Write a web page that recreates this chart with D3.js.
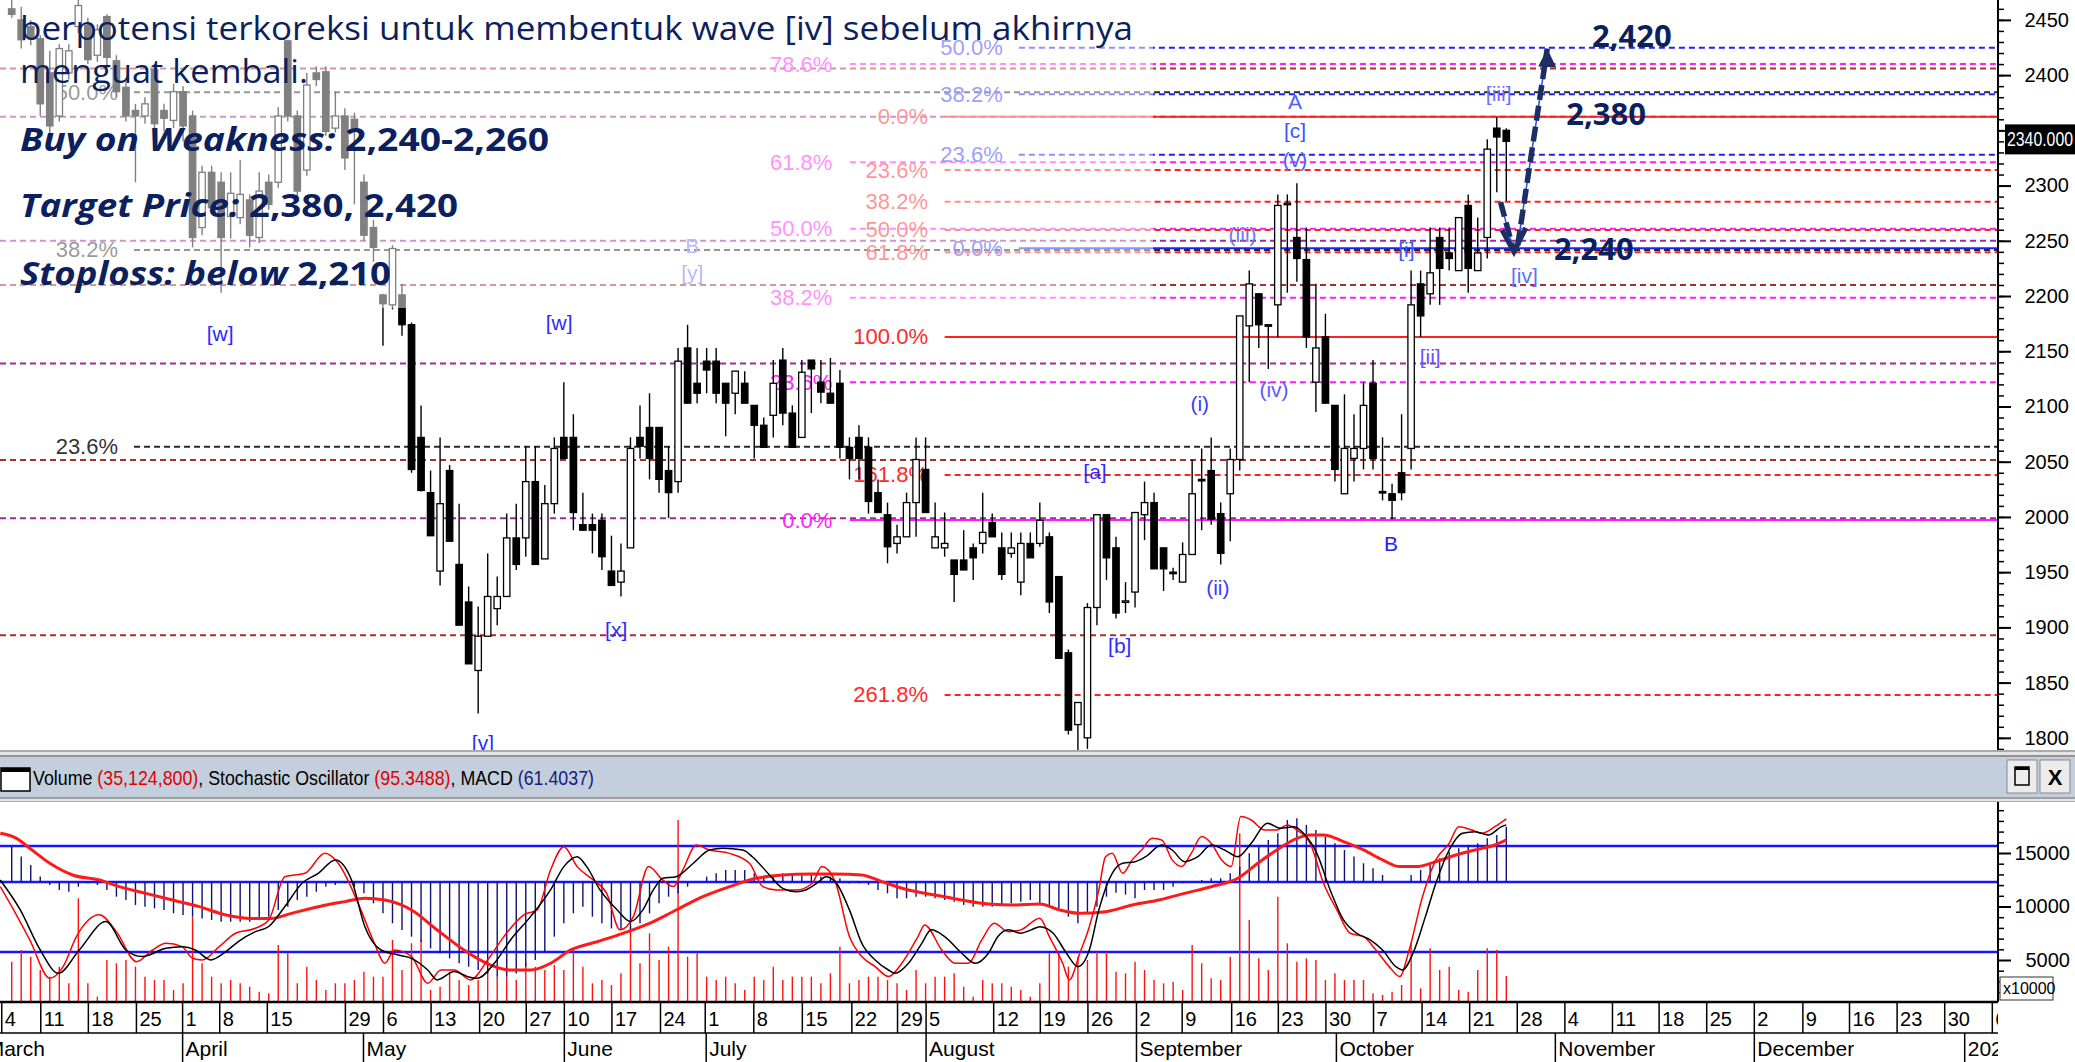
<!DOCTYPE html>
<html>
<head>
<meta charset="utf-8">
<script src="https://cdn.jsdelivr.net/npm/d3@7"></script>
<style>
  body { margin: 0; background: #fff; overflow: hidden; }
  svg { display: block; }
</style>
</head>
<body>
<div id="chart"></div>
<script>
const W = 2075, H = 1062
const axisX = 1998
const NARROW = '"Liberation Sans Narrow", "Arial Narrow", sans-serif'
const ARIAL = '"Liberation Sans", Arial, sans-serif'
const SANS = '"Open Sans", "Noto Sans", sans-serif'
const NAVY = '#0c1f5e'

// candles, one per trading day (6 Mar 2024 .. 25 Oct 2024)
const opens  = [2460,2450,2444,2433,2402,2363,2402,2444,2445,2418, 2453,2413,2389,2368,2363,2405,2368,2359,2385,2363,
  2262,2312,2303,2272,2271,2287,2253,2303,2303,2431, 2363,2314,2402,2403,2352,2363,2360,2303,2262,2201,
  2192,2201,2174,2072,2022,1951,2042,1957,1923,1861, 1892,1917,1928,1981,1981,2032,1962,2012,2072,2072,
  1993,1993,1997,1951,1941,1972,2072,2081,2081,2042, 2032,2153,2121,2141,2141,2121,2112,2121,2101,2083,
  2092,2142,2094,2072,2142,2122,2112,2121,2063,2072, 2063,2022,2002,1976,1982,2013,2043,1972,1972,1961,
  1961,1972,1976,1995,1972,1967,1941,1976,1976,1982, 1946,1877,1812,1800,1918,2002,1972,1923,1932,2002,
  2013,1972,1950,1941,1966,2034,2042,2003,2021,2052, 2173,2202,2174,2192,2284,2253,2233,2122,2163,2101,
  2021,2053,2062,2121,2023,2021,2040,2062,2211,2202, 2253,2239,2223,2282,2223,2253,2352,2350]
const highs  = [2470,2462,2450,2436,2422,2428,2428,2468,2452,2446, 2455,2418,2395,2374,2380,2410,2374,2392,2390,2368,
  2318,2318,2312,2312,2323,2292,2312,2310,2371,2432, 2368,2402,2408,2408,2385,2370,2366,2310,2269,2202,
  2246,2211,2176,2101,2042,2072,2047,2012,1937,1919, 1967,1946,2003,2012,2064,2064,2029,2072,2122,2093,
  2022,2003,2003,1983,1976,2072,2101,2112,2081,2064, 2153,2174,2153,2153,2153,2121,2132,2132,2101,2090,
  2142,2153,2101,2142,2142,2142,2144,2133,2072,2083, 2072,2034,2013,1993,2022,2072,2072,2013,2004,1961,
  1988,1976,2022,2003,1986,1986,1986,1986,2013,1986, 1946,1880,1832,1922,2002,2002,1982,1941,2004,2032,
  2022,1972,1954,1977,2052,2062,2072,2013,2062,2182, 2223,2202,2174,2292,2292,2302,2262,2211,2184,2101,
  2111,2093,2122,2142,2072,2030,2093,2223,2223,2262, 2262,2262,2271,2292,2271,2342,2362,2352]
const lows   = [2452,2424,2427,2363,2345,2358,2396,2438,2410,2412, 2408,2380,2358,2303,2356,2350,2349,2352,2340,2244,
  2255,2275,2203,2252,2265,2244,2248,2278,2298,2358, 2290,2309,2390,2345,2348,2314,2283,2250,2231,2155,
  2188,2164,2040,2023,1983,1938,1978,1902,1867,1822, 1892,1902,1928,1952,1964,1957,1962,2003,2053,1988,
  1988,1967,1952,1938,1928,1972,2053,2034,2022,1999, 2022,2103,2103,2112,2103,2073,2093,2103,2053,2063,
  2072,2083,2063,2072,2094,2103,2103,2053,2034,2034, 2003,2004,1958,1967,1982,1982,2004,1972,1964,1923,
  1952,1943,1967,1982,1943,1963,1929,1963,1973,1913, 1872,1803,1789,1790,1902,1943,1908,1913,1918,1979,
  1953,1933,1943,1941,1966,1988,1993,1957,1978,2042, 2122,2153,2134,2163,2203,2213,2153,2095,2103,2032,
  2021,2032,2043,2043,2015,1998,2015,2043,2163,2192, 2192,2223,2223,2203,2223,2234,2294,2286]
const closes = [2455,2432,2433,2374,2354,2424,2422,2463,2414,2441, 2416,2385,2363,2363,2374,2356,2361,2385,2354,2253,
  2312,2280,2253,2293,2292,2255,2295,2283,2363,2363, 2295,2391,2396,2349,2363,2325,2352,2255,2244,2193,
  2243,2174,2043,2024,1983,2012,1978,1902,1867,1892, 1928,1928,1981,1957,2032,1957,2012,2062,2053,2004,
  1988,1988,1964,1938,1951,2062,2064,2053,2034,2022, 2141,2103,2112,2133,2112,2103,2132,2103,2083,2063,
  2121,2094,2063,2131,2134,2113,2103,2063,2053,2053, 2014,2004,1973,1982,2013,2052,2004,1982,1976,1948,
  1952,1963,1986,1982,1948,1972,1976,1963,1997,1923, 1872,1807,1832,1918,2002,1963,1913,1924,2004,2013,
  1953,1953,1949,1966,2021,2033,1998,1967,2052,2182, 2211,2174,2173,2282,2284,2234,2163,2153,2103,2043,
  2062,2062,2101,2053,2022,2015,2022,2192,2182,2221, 2225,2234,2271,2225,2239,2333,2344,2340]

// volume, in units of 10,000 shares
const volumes = [4846,5936,5313,4067,3444,4379,2821,10764,2821,1575, 5002,4690,5002,4379,3444,3133,3133,2198,2821,9051,
  4690,3444,2821,3133,2821,2510,2042,1886,6403,5624, 2821,4379,3133,2198,2821,2821,3133,3911,3444,3444,
  6871,4067,6559,6871,2198,2510,3911,3133,2665,3133, 4223,3444,3444,3133,4690,4379,4067,4534,4067,5936,
  4379,2821,3133,2665,3755,8116,4690,7493,5002,6248, 18085,5313,5624,3444,3133,3444,2821,2198,3444,3133,
  4379,3133,3444,3444,3444,2821,3755,6248,2821,3133, 3444,3444,3133,2821,2198,4067,2821,3444,3444,3755,
  2510,1575,3133,2821,2821,2510,2198,1575,2821,5624, 5624,4379,5313,5002,5780,5780,3911,3755,4846,4067,
  3133,2821,2977,2198,6403,4690,3288,3133,5313,16839, 8739,5157,4067,10920,6559,4846,5157,5002,3133,3755,
  3133,3133,3133,1886,1730,2042,2665,6559,2354,6092, 4067,4379,2198,2042,4067,6092,5936,3512]

// MACD value per day (blue histogram)
const macd = [39.3,28.2,18.9,6.0,-3.3,-8.9,-10.7,-5.2,-1.5,-3.3, -8.9,-16.3,-20.0,-25.5,-27.4,-29.2,-31.1,-34.8,-36.6,-38.5,
  -40.4,-42.2,-44.1,-44.1,-44.1,-44.1,-42.2,-38.5,-31.1,-27.4, -20.0,-16.3,-10.7,-5.2,-3.3,-1.5,-5.2,-12.6,-23.7,-34.8,
  -45.9,-53.3,-60.7,-66.3,-73.7,-79.2,-84.8,-90.3,-94.1,-97.8, -101.5,-105.2,-105.2,-101.5,-94.1,-86.6,-77.4,-60.7,-45.9,-34.8,
  -27.4,-38.5,-45.9,-51.5,-53.3,-55.2,-45.9,-34.8,-23.7,-16.3, -12.6,-5.2,0.4,6.0,9.7,13.4,13.4,13.4,9.7,6.0,
  7.8,9.7,9.7,9.7,9.7,6.0,6.0,4.1,-1.5,-1.5, -3.3,-8.9,-12.6,-18.1,-18.1,-16.3,-16.3,-18.1,-20.0,-21.8,
  -25.5,-27.4,-27.4,-27.4,-25.5,-23.7,-21.8,-20.0,-23.7,-27.4, -31.1,-38.5,-45.9,-34.8,-27.4,-16.3,-12.0,-14.0,-18.1,-8.9,
  -8.9,-8.9,-5.2,-1.5,0.4,2.2,4.1,4.1,9.7,17.1, 31.9,39.3,46.7,54.1,68.9,70.8,63.4,57.8,50.4,43.0,
  35.6,28.2,20.8,15.2,7.8,0.4,0.4,7.8,13.4,18.9, 26.3,33.7,37.4,41.1,43.0,48.5,52.2,61.4]

// MACD signal line, read as [day, value]
const macdSignal = [[-1.2,54.1],[0.5,48.5],[1.9,37.4],[4.0,20.8],[6.4,7.8],[9.2,2.2],[11.3,-5.2],[14.1,-12.6],[16.9,-20.0],
  [19.7,-27.4],[22.5,-36.6],[25.2,-40.4],[27.3,-40.4],[29.4,-34.8],[32.2,-27.4],[35.0,-21.8],[37.1,-18.1],[39.2,-20.0],
  [42.0,-31.1],[44.7,-53.3],[47.5,-75.5],[50.3,-92.2],[52.4,-97.8],[54.5,-97.8],[56.6,-90.3],[58.7,-75.5],[61.5,-66.3],
  [64.2,-57.0],[67.0,-45.9],[69.8,-31.1],[72.6,-16.3],[75.4,-5.2],[78.2,4.1],[81.0,7.8],[83.8,8.9],[86.5,8.9],[89.3,7.8],
  [91.4,0.4],[94.2,-8.9],[97.0,-14.4],[99.8,-20.0],[102.6,-24.4],[105.3,-25.5],[108.0,-24.4],[110.1,-31.1],[112.2,-34.8],
  [114.9,-33.0],[117.7,-25.5],[120.5,-20.0],[123.2,-12.6],[126.0,-5.2],[128.8,4.1],[130.9,20.8],[132.9,35.6],[135.0,48.5],
  [136.4,52.2],[137.8,52.2],[139.9,44.8],[142.0,35.6],[144.0,24.5],[145.8,17.1],[147.5,17.1],[149.6,22.6],[151.7,30.0],
  [153.7,35.6],[155.8,41.1],[157.0,46.7]]

// stochastic %K (red) and %D (black), read as [day, value]
const stochK = [[-1.2,57.0],[0.2,43.8],[1.9,26.8],[4.0,5.1],[5.4,11.7],[6.8,28.7],[9.2,41.0],[11.0,31.5],[13.1,14.5],
  [14.8,21.1],[16.2,24.9],[17.9,23.0],[19.0,16.4],[20.0,15.5],[21.8,23.0],[23.5,30.6],[25.6,33.4],[27.0,38.1],[28.7,62.6],
  [30.8,64.5],[32.9,75.8],[34.3,70.2],[36.4,47.5],[38.1,24.9],[39.2,13.6],[40.2,21.1],[42.0,17.4],[43.7,2.3],[45.1,9.8],
  [46.5,9.8],[48.2,4.2],[50.0,15.5],[51.7,28.7],[53.8,41.0],[55.2,43.8],[56.6,66.4],[58.0,79.6],[59.4,68.3],[61.1,60.7],
  [62.5,53.2],[63.9,32.5],[65.3,40.0],[66.9,68.3],[68.4,60.7],[69.5,57.0],[70.5,66.4],[71.9,80.5],[73.3,77.7],[75.4,75.8],
  [77.5,70.2],[78.9,57.0],[80.3,55.1],[82.4,55.1],[84.1,58.9],[85.1,68.3],[86.5,59.8],[88.0,28.7],[89.3,17.4],[90.7,11.7],
  [92.1,6.1],[93.5,13.6],[95.2,28.7],[95.9,35.3],[97.7,21.1],[99.1,13.6],[100.5,13.6],[101.9,26.8],[103.2,36.2],[104.7,31.5],
  [106.0,32.5],[108.0,39.1],[109.0,28.7],[110.4,13.6],[111.1,4.2],[112.2,19.3],[113.2,34.3],[114.2,55.1],[114.9,73.9],
  [115.6,75.8],[116.7,64.5],[117.7,72.1],[118.7,77.7],[119.8,84.3],[120.8,83.4],[121.9,72.1],[122.9,68.3],[123.9,75.8],
  [125.0,85.3],[126.0,81.5],[127.1,72.1],[128.1,68.3],[129.1,96.6],[130.2,94.7],[131.6,89.0],[132.9,89.0],[134.0,91.9],
  [135.0,89.0],[136.4,81.5],[137.8,58.9],[139.2,43.8],[140.6,30.6],[142.0,28.7],[143.3,21.1],[144.7,11.7],[145.8,6.1],
  [146.8,21.1],[148.2,51.3],[149.6,72.1],[151.0,81.5],[152.0,90.9],[153.4,89.0],[154.4,87.2],[155.8,90.9],[157.0,95.3]]
const stochD = [[-1.2,60.7],[0.9,43.8],[3.0,21.1],[4.9,7.9],[7.1,21.1],[9.9,37.2],[12.0,21.1],[13.7,17.4],[16.2,22.1],
  [17.9,23.0],[19.3,21.1],[20.9,15.5],[22.5,20.2],[23.8,25.9],[25.6,31.5],[27.0,34.4],[28.7,45.7],[30.5,58.9],[32.2,64.5],
  [34.0,72.1],[35.7,60.7],[37.1,34.3],[38.8,21.1],[40.6,18.3],[42.0,16.4],[43.7,9.8],[44.7,4.2],[46.5,8.9],[47.9,6.0],
  [48.9,5.1],[50.7,13.6],[52.4,26.8],[54.5,40.0],[56.6,55.1],[58.0,68.3],[59.4,73.9],[60.4,68.3],[61.8,55.1],[63.6,43.8],
  [65.0,37.2],[66.3,43.8],[67.4,55.1],[68.4,61.7],[69.8,62.6],[71.6,70.2],[73.3,77.7],[74.7,78.7],[76.8,77.7],[77.8,73.9],
  [79.6,63.6],[81.0,56.0],[82.4,54.1],[83.4,55.1],[84.8,59.8],[85.5,62.6],[86.5,59.8],[88.0,43.8],[89.3,24.9],[90.7,15.5],
  [92.1,9.8],[92.8,7.9],[94.2,13.6],[95.6,24.9],[96.6,32.5],[98.0,28.7],[99.8,19.3],[101.2,13.6],[102.6,19.3],[103.6,28.7],
  [104.7,32.5],[106.0,30.6],[107.1,32.5],[108.0,34.3],[109.4,30.6],[110.8,19.3],[112.0,11.7],[113.2,21.1],[114.2,43.8],
  [115.6,64.5],[116.7,70.2],[118.0,71.1],[119.1,73.9],[120.8,80.5],[121.9,77.7],[123.2,71.1],[124.6,73.9],[126.0,80.5],
  [127.4,77.7],[128.8,73.9],[130.2,81.5],[131.9,92.8],[133.3,90.0],[134.7,90.9],[135.7,87.2],[137.1,75.8],[138.5,55.1],
  [139.9,38.1],[141.3,30.6],[142.7,26.8],[144.0,21.1],[145.4,11.7],[146.1,9.8],[147.2,19.3],[148.5,40.0],[149.6,58.9],
  [151.0,77.7],[152.4,87.2],[153.7,88.1],[155.1,86.2],[156.5,90.9],[157.0,91.9]]

// date axis (position in trading days)
const dayLabels = ['4','11','18','25','1','8','15','29','6','13','20','27','10','17','24','1','8','15','22','29','5','12',
  '19','26','2','9','16','23','30','7','14','21','28','4','11','18','25','2','9','16','23','30','6']
const dayPos = [-1.1,3.0,8.0,13.05,17.9,21.8,26.8,35.0,39.0,44.0,49.1,54.0,58.0,63.0,68.1,72.8,77.9,83.0,88.2,93.0,96.0,103.1,
  108.0,113.0,118.1,122.9,128.1,133.0,138.0,143.0,148.1,153.1,158.1,163.1,168.1,173.0,178.0,183.0,188.1,193.0,198.0,203.0,208.0]
const monthLabels = ['March','April','May','June','July','August','September','October','November','December','2025']
const monthPos = [-3.0,17.9,36.9,58.0,72.9,96.0,118.1,139.1,162.1,183.0,205.1]

const priceTicks = d3.range(1800, 2451, 50)
const volTicks = [5000, 10000, 15000]

// retracement levels
const magentaNames = ['78.6%','61.8%','50.0%','38.2%','23.6%','0.0%']
const magentaLevels = [2410, 2321, 2261, 2198.5, 2122, 1997.2]
const redNames = ['0.0%','23.6%','38.2%','50.0%','61.8%','100.0%','161.8%','261.8%']
const redLevels = [2362.4, 2314, 2285.4, 2259.8, 2239.6, 2163, 2038, 1838.8]
const blueNames = ['50.0%','38.2%','23.6%','0.0%']
const blueLevels = [2424.8, 2382.6, 2328, 2243.2]
const grayNames = ['50.0%','38.2%','23.6%']
const grayLevels = [2384.4, 2241.7, 2063.6]
const brownLevels = [2406, 2210, 2051.6, 1893]
const purpleLevels = [2362.4, 2250.1, 2139, 1998.8]

// wave counts: [text, day, price, colour]
const waveLabels = [['B',71.5,2246,'#6d6dff'],['[y]',71.5,2221,'#6d6dff'],['[w]',21.9,2166,'#2b2bff'],['[w]',57.5,2176,'#2b2bff'],
  ['[x]',63.5,1898,'#2b2bff'],['[v]',49.5,1796,'#2b2bff'],['[a]',113.8,2041,'#2b2bff'],['[b]',116.4,1884,'#2b2bff'],
  ['(i)',124.8,2103,'#3a3aff'],['(ii)',126.7,1936,'#3a3aff'],['(iv)',132.6,2115,'#5a5aff'],['B',144.9,1976,'#1f1fff'],
  ['[ii]',149,2145,'#6a50ff'],['(iii)',129.3,2256,'#6a7aff'],['A',134.8,2376,'#4a60ff'],['[c]',134.8,2350,'#3a55ff'],
  ['(v)',134.8,2324,'#4a60ff'],['[i]',146.5,2242,'#3a5aff'],['[iii]',156.2,2383,'#6f6fff'],['[iv]',158.9,2219,'#5a70ff']]

// scenario arrow: to 2,240 then to 2,420
const arrowDown = [[156.4, 2285], [157.8, 2240]]
const arrowUp = [[158.2, 2246], [161.3, 2424]]
const targetNames = ['2,420', '2,380', '2,240']
const targetDays = [166.0, 163.3, 162.0]
const targetPrices = [2425.5, 2355, 2232.6]

const xDay = d3.scaleLinear().domain([0, 157]).range([11.7, 1506.3])
const yPrice = d3.scaleLinear().domain([1789, 2468]).range([750, 0])
const yVol = d3.scaleLinear().domain([0, 15000]).range([1013.5, 853])
const yStoch = d3.scaleLinear().domain([0, 100]).range([987.3, 810.6])
const yMacd = d3.scaleLinear().domain([0, 61.4]).range([882, 826.7])
const lastClose = closes[closes.length - 1]

const svg = d3.select('#chart').append('svg').attr('width', W).attr('height', H)
svg.append('rect').attr('width', W).attr('height', H).attr('fill', '#fff')

const defs = svg.append('defs')
defs.append('clipPath').attr('id', 'mainClip').append('rect').attr('x', 0).attr('y', 0).attr('width', axisX).attr('height', 750)
defs.append('clipPath').attr('id', 'lowClip').append('rect').attr('x', 0).attr('y', 802).attr('width', axisX).attr('height', 200)
defs.append('clipPath').attr('id', 'dateClip').append('rect').attr('x', 0).attr('y', 1000).attr('width', axisX).attr('height', 62)

// ---------- main price panel ----------
const main = svg.append('g').attr('clip-path', 'url(#mainClip)')

function hLines(levels, color, x0, dashed) {
  main.append('g').selectAll('line').data(levels).join('line')
    .attr('x1', x0).attr('x2', axisX)
    .attr('y1', d => yPrice(d)).attr('y2', d => yPrice(d))
    .attr('stroke', color).attr('stroke-width', 2)
    .attr('stroke-dasharray', (d, i) => dashed(i) ? '6,4' : null)
}
function levelLabels(names, levels, color, endDay) {
  main.append('g').selectAll('text').data(levels).join('text')
    .attr('x', xDay(endDay)).attr('y', d => yPrice(d))
    .attr('text-anchor', 'end').attr('dominant-baseline', 'central')
    .attr('font-family', NARROW).attr('font-size', 22).attr('fill', color)
    .text((d, i) => names[i])
}

hLines(brownLevels, '#a8302c', 0, () => true)
hLines(purpleLevels, '#9a2d9a', 0, () => true)
hLines(grayLevels, '#2a2a2a', xDay(12.85), () => true)
hLines(magentaLevels, '#ff1aff', xDay(88.05), i => i !== 5)
hLines(redLevels, '#ff2020', xDay(98.0), i => i !== 0 && i !== 5)
hLines(blueLevels, '#1f1fff', xDay(105.8), i => i !== 3)
levelLabels(grayNames, grayLevels, '#333', 11.17)
levelLabels(magentaNames, magentaLevels, '#ff22ff', 86.2)
levelLabels(redNames, redLevels, '#ff2a2a', 96.25)
levelLabels(blueNames, blueLevels, '#3a3aff', 104.1)

// candles
const days = d3.range(opens.length)
const candles = main.append('g')
candles.selectAll('line').data(days).join('line')
  .attr('x1', i => xDay(i)).attr('x2', i => xDay(i))
  .attr('y1', i => yPrice(highs[i])).attr('y2', i => yPrice(lows[i]))
  .attr('stroke', '#000').attr('stroke-width', 1.4)
candles.selectAll('rect').data(days).join('rect')
  .attr('x', i => xDay(i) - 3.2).attr('width', 6.4)
  .attr('y', i => yPrice(Math.max(opens[i], closes[i])))
  .attr('height', i => Math.max(1.5, Math.abs(yPrice(opens[i]) - yPrice(closes[i]))))
  .attr('fill', i => closes[i] < opens[i] ? '#000' : '#fff')
  .attr('stroke', '#000').attr('stroke-width', 1.3)

// wave labels
main.append('g').selectAll('text').data(waveLabels).join('text')
  .attr('x', d => xDay(d[1])).attr('y', d => yPrice(d[2]))
  .attr('text-anchor', 'middle').attr('dominant-baseline', 'central')
  .attr('font-family', NARROW).attr('font-size', 21).attr('fill', d => d[3])
  .text(d => d[0])

// white text box over the upper left part
main.append('rect').attr('x', 0).attr('y', 0).attr('width', 1153).attr('height', 308)
  .attr('fill', '#fff').attr('opacity', 0.5)

const note = svg.append('g').attr('fill', NAVY).attr('font-family', SANS).attr('font-size', 33)
note.append('text').attr('x', 20).attr('y', 40).attr('textLength', 1113).attr('lengthAdjust', 'spacingAndGlyphs')
  .text('berpotensi terkoreksi untuk membentuk wave [iv] sebelum akhirnya')
note.append('text').attr('x', 20).attr('y', 83).attr('textLength', 288).attr('lengthAdjust', 'spacingAndGlyphs')
  .text('menguat kembali.')
const boldLines = [['Buy on Weakness:', ' 2,240-2,260', 151, 529], ['Target Price:', ' 2,380, 2,420', 217, 438], ['Stoploss: below', ' 2,210', 285, 371]]
boldLines.forEach(b => {
  const t = note.append('text').attr('x', 20).attr('y', b[2]).attr('font-weight', 700)
    .attr('textLength', b[3]).attr('lengthAdjust', 'spacingAndGlyphs')
  t.append('tspan').attr('font-style', 'italic').text(b[0])
  t.append('tspan').text(b[1])
})

// scenario arrow
const arrowLine = d3.line().x(d => xDay(d[0])).y(d => yPrice(d[1]))
const arrows = svg.append('g')
;[arrowDown, arrowUp].forEach(seg => {
  arrows.append('path').attr('d', arrowLine(seg)).attr('stroke', '#3050d0').attr('stroke-width', 1.5).attr('fill', 'none')
  arrows.append('path').attr('d', arrowLine(seg)).attr('stroke', '#1b2f66').attr('stroke-width', 5.5)
    .attr('stroke-dasharray', '15,6').attr('fill', 'none')
})
const tipD = [xDay(arrowDown[1][0]), yPrice(arrowDown[1][1])]
arrows.append('path').attr('d', `M${tipD[0] - 12},${tipD[1] - 22} L${tipD[0]},${tipD[1]} L${tipD[0] + 12},${tipD[1] - 24}`)
  .attr('stroke', '#1b2f66').attr('stroke-width', 5).attr('fill', 'none')
const tipU = [xDay(arrowUp[1][0]), yPrice(arrowUp[1][1])]
arrows.append('path').attr('d', `M${tipU[0]},${tipU[1]} L${tipU[0] - 9},${tipU[1] + 18} L${tipU[0] + 9},${tipU[1] + 19} Z`)
  .attr('fill', '#1b2f66')

svg.append('g').selectAll('text').data(targetNames).join('text')
  .attr('x', (d, i) => xDay(targetDays[i])).attr('y', (d, i) => yPrice(targetPrices[i]))
  .attr('font-family', SANS).attr('font-weight', 700).attr('font-size', 31).attr('fill', NAVY)
  .text(d => d)

// price axis (the 2350 label sits under the last-price box)
svg.append('line').attr('x1', axisX).attr('x2', axisX).attr('y1', 0).attr('y2', 750).attr('stroke', '#000').attr('stroke-width', 2)
svg.append('g').attr('transform', `translate(${axisX},0)`)
  .call(d3.axisRight(yPrice).tickValues(d3.range(1790, 2468, 10)).tickSize(6).tickFormat(''))
  .call(g => g.select('.domain').remove())
  .call(g => g.selectAll('line').attr('stroke-width', 1.5))
svg.append('g').attr('transform', `translate(${axisX},0)`)
  .call(d3.axisRight(yPrice).tickValues(priceTicks).tickSize(13).tickFormat(d => Math.abs(d - lastClose) < 20 ? '' : d3.format('d')(d)))
  .call(g => g.select('.domain').remove())
  .call(g => g.selectAll('line').attr('stroke-width', 2))
  .call(g => g.selectAll('text').attr('x', 71).attr('text-anchor', 'end')
    .attr('font-family', ARIAL).attr('font-size', 20).attr('fill', '#000'))
svg.append('rect').attr('x', 2005).attr('y', yPrice(lastClose) - 17).attr('width', 70).attr('height', 30).attr('fill', '#000')
svg.append('text').attr('x', 2007).attr('y', yPrice(lastClose) + 5)
  .attr('font-family', NARROW).attr('font-size', 21).attr('fill', '#fff')
  .attr('textLength', 66).attr('lengthAdjust', 'spacingAndGlyphs')
  .text(d3.format('.3f')(lastClose))

// ---------- indicator header ----------
svg.append('rect').attr('x', 0).attr('y', 750).attr('width', W).attr('height', 7).attr('fill', '#e4e4e4')
svg.append('line').attr('x1', 0).attr('x2', W).attr('y1', 751).attr('y2', 751).attr('stroke', '#999').attr('stroke-width', 1.5)
svg.append('line').attr('x1', 0).attr('x2', W).attr('y1', 756).attr('y2', 756).attr('stroke', '#777').attr('stroke-width', 1.5)
svg.append('rect').attr('x', 0).attr('y', 757).attr('width', W).attr('height', 40).attr('fill', '#c3cfdc')
svg.append('rect').attr('x', 0).attr('y', 797).attr('width', W).attr('height', 5).attr('fill', '#e4e4e4')
svg.append('line').attr('x1', 0).attr('x2', W).attr('y1', 798).attr('y2', 798).attr('stroke', '#888').attr('stroke-width', 1.5)
svg.append('line').attr('x1', 0).attr('x2', W).attr('y1', 801.5).attr('y2', 801.5).attr('stroke', '#aaa').attr('stroke-width', 1)
svg.append('rect').attr('x', 1).attr('y', 768).attr('width', 29).attr('height', 23).attr('fill', '#fff').attr('stroke', '#000').attr('stroke-width', 1.5)
svg.append('rect').attr('x', 1).attr('y', 768).attr('width', 29).attr('height', 4).attr('fill', '#000')
const head = svg.append('text').attr('x', 33).attr('y', 785).attr('font-family', NARROW).attr('font-size', 21)
  .attr('textLength', 561).attr('lengthAdjust', 'spacingAndGlyphs')
const headParts = [['Volume ', '#000'], ['(35,124,800)', '#e00000'], [', Stochastic Oscillator ', '#000'], ['(95.3488)', '#e00000'], [', MACD ', '#000'], ['(61.4037)', '#1a1a80']]
headParts.forEach(p => head.append('tspan').attr('fill', p[1]).text(p[0]))
;[2007, 2040].forEach((bx, k) => {
  svg.append('rect').attr('x', bx).attr('y', 760).attr('width', 30).attr('height', 33).attr('fill', '#ececec').attr('stroke', '#888')
  if (k === 0) {
    svg.append('rect').attr('x', bx + 8).attr('y', 767).attr('width', 14).attr('height', 18).attr('fill', 'none').attr('stroke', '#000').attr('stroke-width', 1.5)
    svg.append('rect').attr('x', bx + 8).attr('y', 767).attr('width', 14).attr('height', 3).attr('fill', '#000')
  } else {
    svg.append('text').attr('x', bx + 15).attr('y', 785).attr('text-anchor', 'middle').attr('font-family', ARIAL)
      .attr('font-weight', 700).attr('font-size', 22).text('X')
  }
})

// ---------- indicator panel ----------
const low = svg.append('g').attr('clip-path', 'url(#lowClip)')
low.append('g').selectAll('line').data([yStoch(80), yMacd(0), yStoch(20)]).join('line')
  .attr('x1', 0).attr('x2', axisX).attr('y1', d => d).attr('y2', d => d)
  .attr('stroke', '#1414ff').attr('stroke-width', 2.5)
low.append('g').selectAll('line').data(days).join('line')
  .attr('x1', i => xDay(i)).attr('x2', i => xDay(i))
  .attr('y1', 1002).attr('y2', i => yVol(volumes[i]))
  .attr('stroke', '#ff1010').attr('stroke-width', 1.4)
low.append('g').selectAll('line').data(days).join('line')
  .attr('x1', i => xDay(i)).attr('x2', i => xDay(i))
  .attr('y1', yMacd(0)).attr('y2', i => yMacd(macd[i]))
  .attr('stroke', '#10107a').attr('stroke-width', 1.4)
low.append('path').datum(macdSignal)
  .attr('d', d3.line().x(d => xDay(d[0])).y(d => yMacd(d[1])).curve(d3.curveMonotoneX))
  .attr('fill', 'none').attr('stroke', '#ff1a1a').attr('stroke-width', 3)
low.append('path').datum(stochK)
  .attr('d', d3.line().x(d => xDay(d[0])).y(d => yStoch(d[1])).curve(d3.curveMonotoneX))
  .attr('fill', 'none').attr('stroke', '#ff0000').attr('stroke-width', 1.5)
low.append('path').datum(stochD)
  .attr('d', d3.line().x(d => xDay(d[0])).y(d => yStoch(d[1])).curve(d3.curveMonotoneX))
  .attr('fill', 'none').attr('stroke', '#000').attr('stroke-width', 1.5)

svg.append('line').attr('x1', axisX).attr('x2', axisX).attr('y1', 802).attr('y2', 1002).attr('stroke', '#000').attr('stroke-width', 2)
svg.append('g').attr('transform', `translate(${axisX},0)`)
  .call(d3.axisRight(yVol).tickValues(d3.range(1000, 19001, 1000).filter(v => v % 5000)).tickSize(6).tickFormat(''))
  .call(g => g.select('.domain').remove())
  .call(g => g.selectAll('.tick').filter(v => yVol(v) < 806 || yVol(v) > 1000).remove())
  .call(g => g.selectAll('line').attr('stroke-width', 1.5))
svg.append('g').attr('transform', `translate(${axisX},0)`)
  .call(d3.axisRight(yVol).tickValues(volTicks).tickSize(13).tickFormat(d3.format('d')))
  .call(g => g.select('.domain').remove())
  .call(g => g.selectAll('line').attr('stroke-width', 2))
  .call(g => g.selectAll('text').attr('x', 72).attr('text-anchor', 'end')
    .attr('font-family', ARIAL).attr('font-size', 20).attr('fill', '#000'))
svg.append('rect').attr('x', 2000).attr('y', 977).attr('width', 53).attr('height', 23).attr('fill', '#fff').attr('stroke', '#333')
svg.append('text').attr('x', 2003).attr('y', 994).attr('font-family', NARROW).attr('font-size', 16).text('x10000')

// ---------- date axis ----------
const dates = svg.append('g').attr('clip-path', 'url(#dateClip)')
dates.append('line').attr('x1', 0).attr('x2', axisX).attr('y1', 1002).attr('y2', 1002).attr('stroke', '#000').attr('stroke-width', 2.5)
dates.append('line').attr('x1', 0).attr('x2', axisX).attr('y1', 1033).attr('y2', 1033).attr('stroke', '#000').attr('stroke-width', 1.5)
dates.append('g').attr('transform', 'translate(0,1002)')
  .call(d3.axisBottom(xDay).tickValues(dayPos).tickSize(31).tickFormat((d, i) => dayLabels[i]))
  .call(g => g.select('.domain').remove())
  .call(g => g.selectAll('line').attr('stroke-width', 1.5))
  .call(g => g.selectAll('text').attr('x', 3).attr('y', 24).attr('dy', null).attr('text-anchor', 'start')
    .attr('font-family', ARIAL).attr('font-size', 20).attr('fill', '#000'))
dates.append('g').attr('transform', 'translate(0,1033)')
  .call(d3.axisBottom(xDay).tickValues(monthPos).tickSize(29).tickFormat((d, i) => monthLabels[i]))
  .call(g => g.select('.domain').remove())
  .call(g => g.selectAll('line').attr('stroke-width', 1.5))
  .call(g => g.selectAll('text').attr('x', 3).attr('y', 23).attr('dy', null).attr('text-anchor', 'start')
    .attr('font-family', ARIAL).attr('font-size', 21).attr('fill', '#000'))
</script>
</body>
</html>
